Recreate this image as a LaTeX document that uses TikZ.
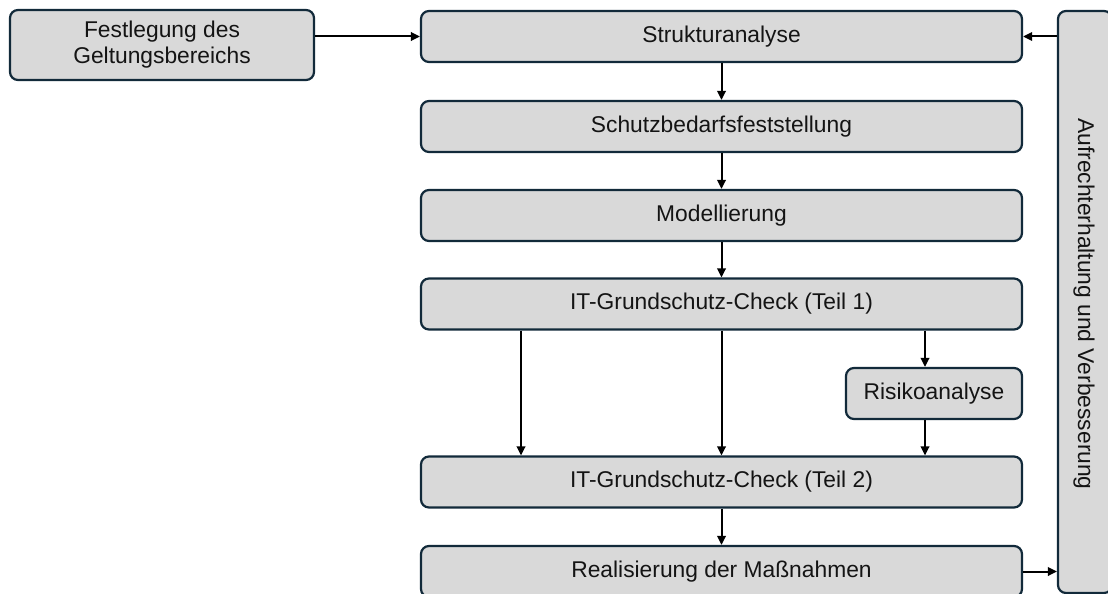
\documentclass[tikz,border=0pt]{standalone}
\usepackage{fontspec}
\setmainfont{Liberation Sans}
\usetikzlibrary{arrows.meta}
\definecolor{boxline}{RGB}{18,42,58}
\definecolor{boxfill}{RGB}{217,217,217}
\definecolor{ink}{RGB}{20,20,20}
\tikzset{
  stepbox/.style={draw=boxline, fill=boxfill, line width=2.2pt, rounded corners=8pt,
    inner sep=0pt, align=center, text=ink,
    font=\fontsize{22.8}{26}\selectfont},
  flow/.style={draw=black, line width=2pt,
    -{Triangle[length=9pt,width=8.5pt]}}
}
\begin{document}
\begin{tikzpicture}[x=1pt, y=-1pt]
  \useasboundingbox (0,0) rectangle (1108,594);
  \clip (0,0) rectangle (1108,594);

  % scope definition on the left
  \node[stepbox, minimum width=304pt, minimum height=70pt] (fest) at (162,45)
    {Festlegung des\\Geltungsbereichs};

  % main column of process steps
  \node[stepbox, minimum width=601pt, minimum height=51pt] (s1) at (721.5,36.5) {Strukturanalyse};
  \node[stepbox, minimum width=601pt, minimum height=51pt] (s2) at (721.5,126.5) {Schutzbedarfsfeststellung};
  \node[stepbox, minimum width=601pt, minimum height=51pt] (s3) at (721.5,215.5) {Modellierung};
  \node[stepbox, minimum width=601pt, minimum height=51pt] (s4) at (721.5,304) {IT-Grundschutz-Check (Teil 1)};
  \node[stepbox, minimum width=176pt, minimum height=51pt] (risk) at (934,393.5) {Risikoanalyse};
  \node[stepbox, minimum width=601pt, minimum height=51pt] (s5) at (721.5,482) {IT-Grundschutz-Check (Teil 2)};
  \node[stepbox, minimum width=601pt, minimum height=51pt] (s6) at (721.5,571.5) {Realisierung der Maßnahmen};

  % maintenance bar on the right
  \node[stepbox, minimum width=54pt, minimum height=582pt] (keep) at (1085,302) {};
  \node[text=ink, font=\fontsize{22.8}{26}\selectfont, rotate=-90] (keeptext) at (1084,304)
    {Aufrechterhaltung und Verbesserung};

  % x positions of the parallel branches
  \coordinate (xl) at (521,0);
  \coordinate (xm) at (721.5,0);
  \coordinate (xr) at (925,0);

  % connectors
  \draw[flow] (s1.west -| fest.east) -- (s1.west);
  \draw[flow] (s1.east -| keep.west) -- (s1.east);
  \draw[flow] (s1.south) -- (s2.north);
  \draw[flow] (s2.south) -- (s3.north);
  \draw[flow] (s3.south) -- (s4.north);
  \draw[flow] (s4.south -| xl) -- (s5.north -| xl);
  \draw[flow] (s4.south -| xm) -- (s5.north -| xm);
  \draw[flow] (s4.south -| xr) -- (risk.north -| xr);
  \draw[flow] (risk.south -| xr) -- (s5.north -| xr);
  \draw[flow] (s5.south) -- (s6.north);
  \draw[flow] (s6.east) -- (s6.east -| keep.west);
\end{tikzpicture}
\end{document}
